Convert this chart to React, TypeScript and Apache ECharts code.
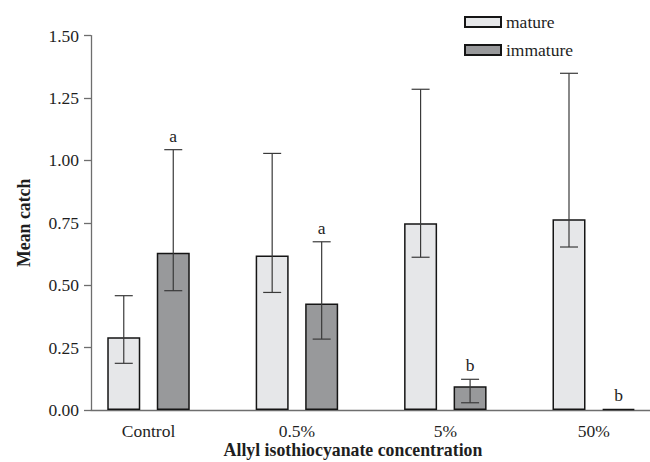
import React, { useEffect, useRef } from "react";
import * as echarts from "echarts";

const categories = ["Control", "0.5%", "5%", "50%"];
const matureMean = [0.291, 0.619, 0.748, 0.764];
const matureUpper = [0.458, 1.028, 1.285, 1.349];
const matureLower = [0.187, 0.471, 0.612, 0.653];
const matureLetters = ["", "", "", ""];
const immatureMean = [0.63, 0.427, 0.095, 0.005];
const immatureUpper = [1.043, 0.674, 0.123, 0.005];
const immatureLower = [0.478, 0.284, 0.029, 0.005];
const immatureLetters = ["a", "a", "b", "b"];
const yTicks = [0, 0.25, 0.5, 0.75, 1.0, 1.25, 1.5];

const FONT = "'Liberation Serif', 'Times New Roman', Times, 'DejaVu Serif', serif";
const TXT = "#1e1e1e";
const FS = 17.5;
const FS_BOLD = 17.8;
const BAR_W = 33;
const GAP = 16.5;
const CAP = 18;

function makeErr(offset: number, letters: string[]) {
  return (params: any, api: any) => {
    const i = api.value(0);
    const hi = api.coord([i, api.value(1)]);
    const lo = api.coord([i, api.value(2)]);
    const cx = hi[0] + offset;
    const children: any[] = [];
    if (Math.abs(hi[1] - lo[1]) > 0.5) {
      const st = { stroke: "#3a3a3a", lineWidth: 1.2 };
      children.push({ type: "line", shape: { x1: cx, y1: hi[1], x2: cx, y2: lo[1] }, style: st });
      children.push({ type: "line", shape: { x1: cx - CAP / 2, y1: hi[1], x2: cx + CAP / 2, y2: hi[1] }, style: st });
      children.push({ type: "line", shape: { x1: cx - CAP / 2, y1: lo[1], x2: cx + CAP / 2, y2: lo[1] }, style: st });
    }
    const letter = letters[params.dataIndex];
    if (letter) {
      children.push({
        type: "text",
        style: {
          text: letter,
          x: cx,
          y: hi[1] - 14,
          textAlign: "center",
          textVerticalAlign: "middle",
          fontFamily: FONT,
          fontSize: FS,
          fill: TXT,
        },
      });
    }
    return { type: "group", children };
  };
}

export default function App() {
  const ref = useRef<HTMLDivElement>(null);
  useEffect(() => {
    if (!ref.current) return;
    const chart = echarts.init(ref.current, undefined, { renderer: "svg" });
    const option: any = {
      animation: false,
      backgroundColor: "#ffffff",
      textStyle: { fontFamily: FONT, color: TXT },
      legend: {
        data: ["mature", "immature"],
        orient: "vertical",
        left: 459,
        top: 8,
        itemWidth: 36,
        itemHeight: 10,
        itemGap: 10,
        icon: "rect",
        textStyle: { fontFamily: FONT, fontSize: FS, color: TXT },
      },
      grid: { left: 91, right: 0, top: 35.6, bottom: 52 },
      xAxis: {
        type: "value",
        min: -0.3875,
        max: 3.379,
        axisLine: { show: true, onZero: false, lineStyle: { color: "#6e6e6e", width: 1.3 } },
        axisTick: { show: false },
        splitLine: { show: false },
        axisLabel: {
          customValues: [0, 1, 2, 3],
          margin: 12.5,
          fontFamily: FONT,
          fontSize: FS,
          lineHeight: FS,
          color: TXT,
          formatter: (v: number) => categories[Math.round(v)] ?? "",
        },
      },
      yAxis: {
        type: "value",
        min: 0,
        max: 1.5,
        interval: 0.25,
        name: "Mean catch",
        nameLocation: "middle",
        nameGap: 58,
        nameTextStyle: { fontFamily: FONT, fontSize: FS_BOLD, fontWeight: "bold", color: TXT },
        axisLine: { show: true, onZero: false, lineStyle: { color: "#6e6e6e", width: 1.3 } },
        axisTick: { show: true, inside: false, length: 7, lineStyle: { color: "#6e6e6e", width: 1.3 } },
        axisLabel: {
          margin: 12,
          fontFamily: FONT,
          fontSize: FS,
          color: TXT,
          formatter: (v: number) => (yTicks.includes(v) ? v.toFixed(2) : ""),
        },
        splitLine: { show: false },
      },
      graphic: [
        {
          type: "text",
          x: 353,
          y: 450,
          style: {
            text: "Allyl isothiocyanate concentration",
            x: 0,
            y: 0,
            textAlign: "center",
            textVerticalAlign: "middle",
            fontFamily: FONT,
            fontSize: FS_BOLD,
            lineHeight: FS_BOLD,
            fontWeight: "bold",
            fill: TXT,
          },
        },
      ],
      series: [
        {
          name: "mature",
          type: "bar",
          data: categories.map((_, i) => [i, matureMean[i]]),
          barWidth: BAR_W,
          barGap: "50%",
          itemStyle: { color: "#e6e7e9", borderColor: "#151515", borderWidth: 1.5 },
        },
        {
          name: "immature",
          type: "bar",
          data: categories.map((_, i) => [i, immatureMean[i]]),
          barWidth: BAR_W,
          barGap: "50%",
          itemStyle: { color: "#98999b", borderColor: "#151515", borderWidth: 1.5 },
        },
        {
          type: "custom",
          renderItem: makeErr(-(BAR_W + GAP) / 2, matureLetters),
          data: categories.map((_, i) => [i, matureUpper[i], matureLower[i]]),
          encode: { x: 0, y: [1, 2] },
          z: 5,
          silent: true,
        },
        {
          type: "custom",
          renderItem: makeErr((BAR_W + GAP) / 2, immatureLetters),
          data: categories.map((_, i) => [i, immatureUpper[i], immatureLower[i]]),
          encode: { x: 0, y: [1, 2] },
          z: 5,
          silent: true,
        },
      ],
    };
    chart.setOption(option);
    return () => chart.dispose();
  }, []);
  return (
    <div
      ref={ref}
      style={{ position: "fixed", left: 0, top: 0, width: 650, height: 462 }}
    />
  );
}
